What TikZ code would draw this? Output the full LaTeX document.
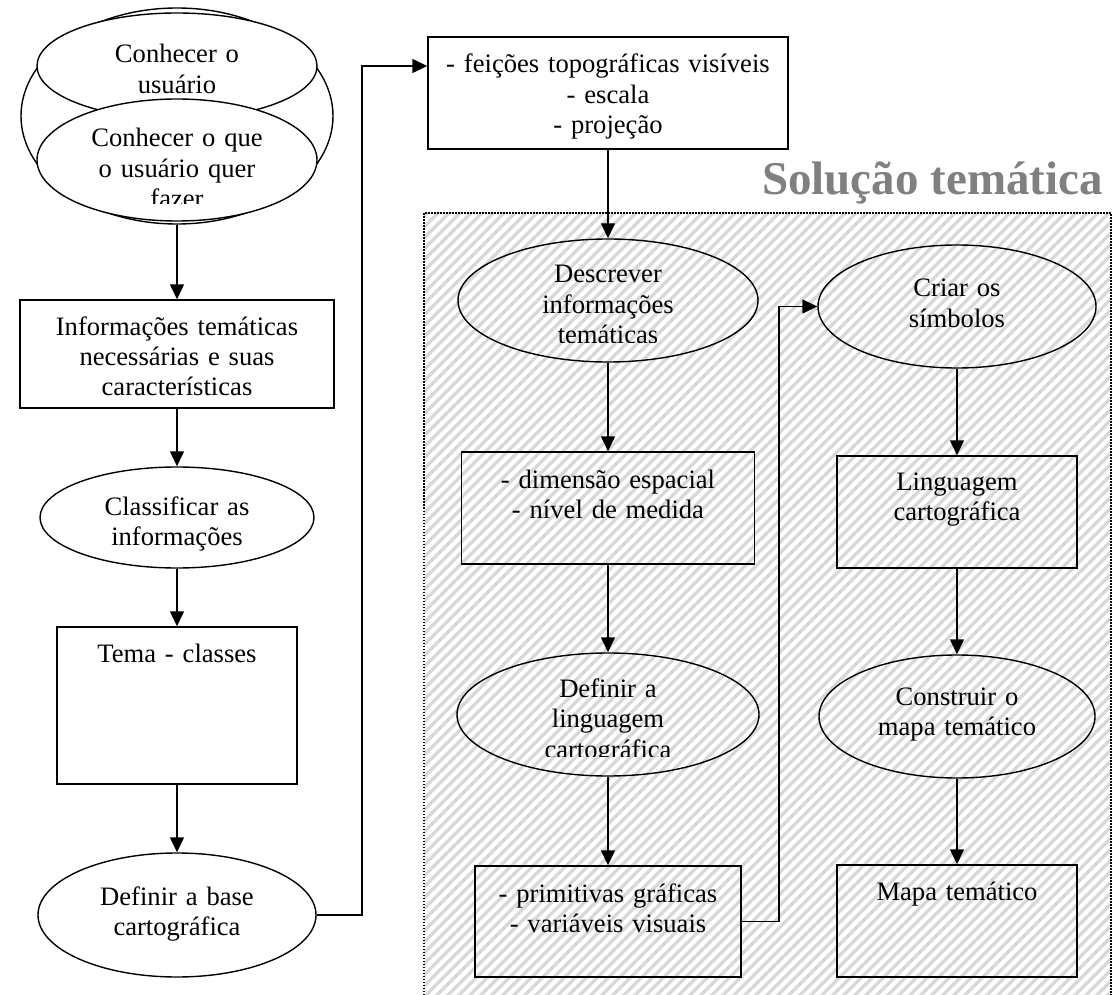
\documentclass[tikz,border=0pt]{standalone}
\usepackage{fontspec}
\setmainfont{Liberation Serif}
\usetikzlibrary{shapes.geometric,arrows.meta}
\definecolor{hatchgray}{RGB}{216,216,216}
\definecolor{titlegray}{RGB}{128,128,128}

\begin{document}
\begin{tikzpicture}[x=1pt,y=-1pt,
  flow/.style={line width=1.4pt,-{Triangle[length=15pt,width=14pt]}},
  stepbox/.style={draw,line width=1.4pt,rectangle,inner sep=0pt},
  stepoval/.style={draw,line width=1.4pt,ellipse,inner sep=0pt},
  txt/.style={inner sep=0pt,anchor=base,text width=#1,align=center,
              font=\fontsize{26.6}{30.5}\selectfont},
]
\useasboundingbox (0,0) rectangle (1112,995);

% hatched area of the thematic solution
\begin{scope}
  \clip (424,213) rectangle (1111,995);
  \foreach \k in {-800,-789,...,1120}
    \draw[hatchgray,line width=3.5pt] (\k,1000) -- (\k+800,200);
\end{scope}
\draw[line width=1.5pt,dash pattern=on 1.5pt off 1.5pt]
  (424,995) -- (424,213) -- (1111,213) -- (1111,995);

\node[inner sep=0pt,anchor=base east,text=titlegray,
      font=\fontsize{47}{50}\selectfont\bfseries] (title) at (1103,195) {Solução temática};

% left column
\node[stepoval,fill=white,minimum width=312pt,minimum height=216pt] (outer) at (177,116) {};
\node[stepoval,fill=white,minimum width=280pt,minimum height=106pt] (usuario) at (177,66) {};
\node[stepoval,fill=white,minimum width=280pt,minimum height=122pt] (quer) at (177,160) {};
\node[txt=260pt] (tusuario) at (177,63) {Conhecer o\\usuário};
\begin{scope}
  \clip (0,0) rectangle (400,204);
  \node[txt=260pt] (tquer) at (177,147) {Conhecer o que\\o usuário quer\\fazer};
\end{scope}

\node[stepbox,minimum width=314pt,minimum height=108pt] (info) at (177,354) {};
\node[txt=300pt] (tinfo) at (177,335) {Informações temáticas\\necessárias e suas\\características};

\node[stepoval,minimum width=274pt,minimum height=101pt] (classif) at (177,517.5) {};
\node[txt=260pt] (tclassif) at (177,515) {Classificar as\\informações};

\node[stepbox,minimum width=240pt,minimum height=157pt] (tema) at (177,705.5) {};
\node[txt=230pt] (ttema) at (177,662) {Tema - classes};

\node[stepoval,minimum width=278pt,minimum height=124pt] (defbase) at (177,915) {};
\node[txt=260pt] (tdefbase) at (177,905) {Definir a base\\cartográfica};

% middle column
\node[stepbox,minimum width=360pt,minimum height=112pt] (feicoes) at (608,93) {};
\node[txt=350pt] (tfeicoes) at (608,73) {- feições topográficas visíveis\\- escala\\- projeção};

\node[stepoval,minimum width=300pt,minimum height=123pt] (descrever) at (608,300.5) {};
\begin{scope}
  \clip (424,213) rectangle (800,342);
  \node[txt=280pt] (tdescrever) at (608,283) {Descrever\\informações\\temáticas};
\end{scope}

\node[stepbox,minimum width=293pt,minimum height=112pt] (dimensao) at (608,508) {};
\node[txt=280pt] (tdimensao) at (608,488) {- dimensão espacial\\- nível de medida};

\node[stepoval,minimum width=302pt,minimum height=123pt] (deflin) at (608,714.5) {};
\begin{scope}
  \clip (424,600) rectangle (800,756);
  \node[txt=280pt] (tdeflin) at (608,697) {Definir a\\linguagem\\cartográfica};
\end{scope}

\node[stepbox,minimum width=266pt,minimum height=111pt] (prim) at (608,921.5) {};
\node[txt=260pt] (tprim) at (608,902) {- primitivas gráficas\\- variáveis visuais};

% right column
\node[stepoval,minimum width=278pt,minimum height=123pt] (criar) at (957,306.5) {};
\node[txt=260pt] (tcriar) at (957,297) {Criar os\\símbolos};

\node[stepbox,minimum width=240pt,minimum height=112pt] (ling) at (957,512) {};
\node[txt=230pt] (tling) at (957,490) {Linguagem\\cartográfica};

\node[stepoval,minimum width=276pt,minimum height=123pt] (construir) at (957,716.5) {};
\node[txt=260pt] (tconstruir) at (957,705) {Construir o\\mapa temático};

\node[stepbox,minimum width=240pt,minimum height=112pt] (mapa) at (957,921) {};
\node[txt=230pt] (tmapa) at (957,900) {Mapa temático};

% connectors
\coordinate (jtop) at (362,66);
\coordinate (jright) at (779,306.5);

\draw[flow] (outer.south) -- (info.north);
\draw[flow] (info.south) -- (classif.north);
\draw[flow] (classif.south) -- (tema.north);
\draw[flow] (tema.south) -- (defbase.north);
\draw[flow] (defbase.east) -| (jtop) -- (feicoes.west |- jtop);

\draw[flow] (feicoes.south) -- (descrever.north);
\draw[flow] (descrever.south) -- (dimensao.north);
\draw[flow] (dimensao.south) -- (deflin.north);
\draw[flow] (deflin.south) -- (prim.north);
\draw[flow] (prim.east) -| (jright) -- (criar.west);

\draw[flow] (criar.south) -- (ling.north);
\draw[flow] (ling.south) -- (construir.north);
\draw[flow] (construir.south) -- (mapa.north);
\end{tikzpicture}
\end{document}
